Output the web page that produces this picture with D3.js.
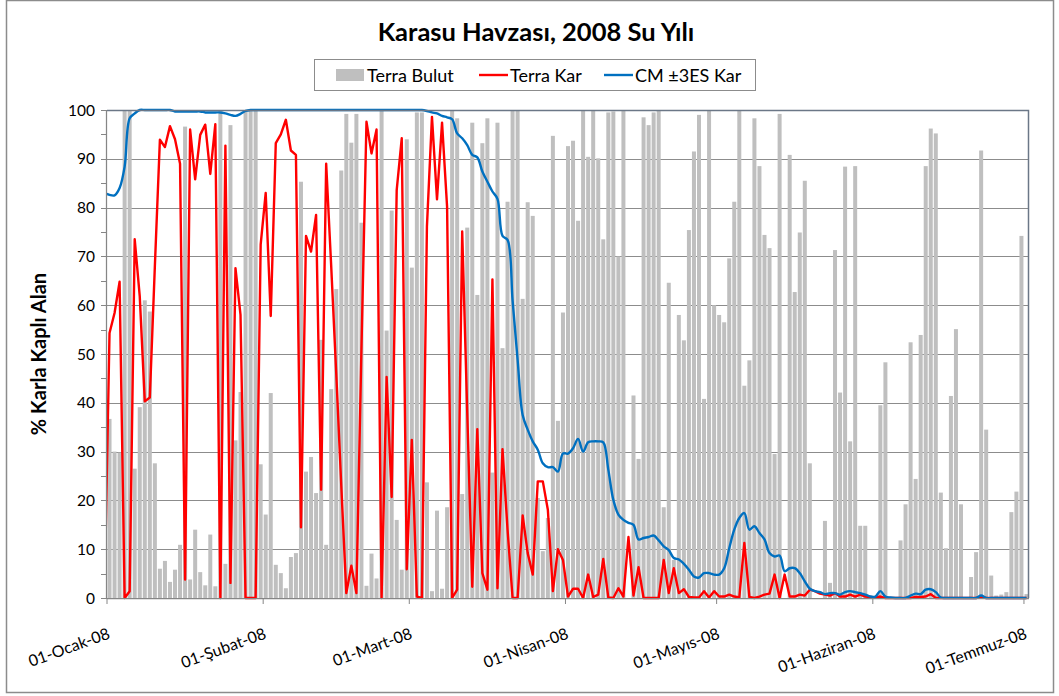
<!DOCTYPE html>
<html>
<head>
<meta charset="utf-8">
<script src="https://cdn.jsdelivr.net/npm/d3@7"></script>
<style>
  body { margin: 0; background: #fff; }
  svg { display: block; font-family: Lato, "Open Sans", sans-serif; }
</style>
</head>
<body>
<div id="chart"></div>
<script>
// --- Datos (31-Ara-07 .. 01-Tem-08, un valor por día) ---
const firstDay = Date.UTC(2007, 11, 31);
const lastDay = Date.UTC(2008, 6, 2);   // exclusivo

// Terra Bulut (%)
const bulut = [
  0,
  36.7, 30, 29.8, 100, 100, 26.5, 39.1, 61, 58.7, 27.6,
  6.0, 7.6, 3.3, 5.8, 10.9, 96.6, 3.8, 14.0, 5.3, 2.6,
  13.0, 2.4, 100, 7.0, 96.9, 32.3, 42.2, 100, 100, 100,
  27.4, 17.1, 42.0, 6.8, 5.1, 2.0, 8.4, 9.2, 85.3, 25.9,
  28.9, 21.5, 52.9, 10.9, 42.8, 63.3, 87.6, 99.2, 93.3, 99.2,
  76.9, 2.5, 9.1, 4.0, 100, 54.8, 79.4, 16.0, 5.8, 94.0,
  67.7, 99.5, 99.5, 23.7, 1.4, 17.9, 1.9, 18.6, 100, 98.3,
  21.3, 75.9, 97.4, 62.1, 93.2, 98.3, 25.7, 97.4, 51.2, 81.2,
  100, 100, 61.3, 81.1, 78.3, 20.5, 9.6, 16.4, 94.7, 36.3,
  58.5, 92.6, 93.7, 77.3, 100, 90.4, 100, 90.1, 73.5, 99.5,
  99.7, 70.0, 100, 0, 41.5, 28.5, 98.5, 96.9, 99.5, 100,
  18.6, 64.6, 7.8, 58.0, 52.8, 75.4, 91.5, 99.0, 40.8, 100,
  60.0, 58.0, 56.5, 69.6, 81.2, 100, 43.5, 48.7, 98.3, 88.5,
  74.4, 71.7, 29.5, 99.2, 0, 90.8, 62.7, 74.9, 85.5, 27.6,
  0, 0, 15.8, 3.1, 71.3, 42.1, 88.4, 32.1, 88.5, 14.8,
  14.8, 0, 0, 39.5, 48.3, 0, 0, 11.8, 19.2, 52.4,
  24.4, 53.9, 88.5, 96.2, 95.2, 21.6, 10.2, 41.4, 55.1, 19.2,
  0, 4.3, 9.4, 91.7, 34.5, 4.6, 0.5, 0.7, 1.2, 17.6,
  21.8, 74.2, 0.8
];

// Terra Kar (%)
const terraKar = [
  0,
  54.3, 58.4, 64.8, 0, 1.4, 73.5, 61.8, 40.3, 41.1, 68,
  93.9, 92.4, 96.7, 94, 89, 3.8, 96, 85.8, 94.9, 97,
  86.9, 97.1, 0, 92.7, 3.1, 67.6, 58, 0, 0, 0,
  72.4, 83, 57.8, 93.2, 95, 98, 91.7, 90.8, 14.5, 74.2,
  71, 78.5, 22.2, 89, 68, 46, 23, 1, 6.6, 1,
  51, 97.6, 91.1, 96, 0, 45.3, 20.7, 83.6, 94.2, 5.9,
  32.4, 0.3, 0, 76.1, 98.6, 81.7, 97.4, 80.2, 0, 1.7,
  75.1, 38, 2.3, 34.6, 5.1, 1.7, 65.3, 2, 30.5, 14,
  0, 0, 16.9, 9.2, 4.8, 23.9, 23.9, 18.1, 1.4, 10,
  7.8, 0.3, 1.9, 1.9, 0, 4.8, 0.2, 0.7, 8, 0.1,
  0, 2, 0.3, 12.5, 0.5, 6.3, 0, 0, 0, 0,
  7.8, 1, 6.1, 1, 1.8, 0.2, 0.1, 0.1, 1.4, 0.1,
  1.4, 0.3, 0.3, 0.7, 0.3, 0.1, 11.3, 0.2, 0, 0.3,
  0.7, 0.9, 4.8, 0, 4.8, 0.3, 0.3, 0.7, 0.5, 1.7,
  1.4, 0.9, 0.7, 0.5, 1, 0.3, 0.3, 0.7, 0.3, 0.7,
  0.3, 0.2, 0.1, 0.3, 0, 0, 0, 0, 0, 0,
  0.2, 0.2, 0.3, 0.8, 0, 0, 0, 0, 0, 0,
  0, 0, 0, 0.3, 0, 0, 0, 0, 0, 0,
  0, 0, 0
];

// CM ±3ES Kar (%)
const cmKar = [
  83,
  82.6, 82.5, 84, 88.4, 98.3, 99.3, 100, 100, 100, 100,
  100, 100, 100, 99.7, 99.7, 99.7, 99.7, 99.7, 99.7, 99.5,
  99.5, 99.5, 99.5, 99.3, 99.0, 98.8, 99.2, 99.8, 100, 100,
  100, 100, 100, 100, 100, 100, 100, 100, 100, 100,
  100, 100, 100, 100, 100, 100, 100, 100, 100, 100,
  100, 100, 100, 100, 100, 100, 100, 100, 100, 100,
  100, 100, 100, 99.8, 99.5, 99.3, 98.8, 98.5, 98.1, 95.2,
  94.2, 92.8, 90.8, 90.3, 87.4, 85.3, 83.3, 81.8, 74.2, 73.4,
  61, 48.8, 37.5, 34.5, 32.1, 30.4, 27.6, 26.8, 26.8, 25.9,
  29.6, 29.6, 30.7, 32.6, 30, 31.9, 32.1, 32.1, 31.9, 26.3,
  20.1, 17.1, 16, 15.4, 15, 12, 12.3, 12.5, 12.8, 11.8,
  10.6, 9.8, 8.2, 7.9, 7.0, 5.8, 4.4, 4.2, 5.1, 5.1,
  4.8, 4.8, 6.1, 10.2, 14, 16.4, 17.4, 14, 14.7, 13.3,
  12, 9.2, 8.5, 8.7, 5.5, 6.1, 6.1, 5.1, 3.4, 1.9,
  1.4, 1.2, 0.8, 1, 1, 0.7, 1.2, 1.4, 1.2, 1,
  0.7, 0.3, 0.3, 1.4, 0.3, 0.1, 0, 0, 0, 0.5,
  0.9, 0.8, 1.7, 1.8, 1.2, 0.1, 0, 0, 0, 0,
  0, 0, 0, 0.5, 0, 0, 0, 0, 0, 0,
  0, 0, 0
];

// Etiquetas del eje X (primer día de cada mes)
const tickDates = [
  Date.UTC(2008, 0, 1), Date.UTC(2008, 1, 1), Date.UTC(2008, 2, 1),
  Date.UTC(2008, 3, 1), Date.UTC(2008, 4, 1), Date.UTC(2008, 5, 1),
  Date.UTC(2008, 6, 1)
];
const tickLabels = [
  "01-Ocak-08", "01-Şubat-08", "01-Mart-08", "01-Nisan-08",
  "01-Mayıs-08", "01-Haziran-08", "01-Temmuz-08"
];
const yTicks = [0, 10, 20, 30, 40, 50, 60, 70, 80, 90, 100];

const legendItems = [
  { label: "Terra Bulut", type: "bar", color: "#bfbfbf" },
  { label: "Terra Kar", type: "line", color: "#ff0000" },
  { label: "CM ±3ES Kar", type: "line", color: "#0070c0" }
];

// --- Render ---
const width = 1059, height = 696;
const plot = { left: 107, right: 1029, top: 110, bottom: 598 };

const days = d3.utcDay.range(new Date(firstDay), new Date(lastDay));
const rows = days.map((d, i) => ({
  date: d,
  bulut: bulut[i],
  terra: terraKar[i],
  cm: cmKar[i]
}));

const svg = d3.select("#chart")
  .append("svg")
  .attr("width", width)
  .attr("height", height);

svg.append("rect")
  .attr("x", 6.5).attr("y", 0.5)
  .attr("width", 1047).attr("height", 692)
  .attr("fill", "#fff")
  .attr("stroke", "#8c8c8c")
  .attr("stroke-width", 1.5);

const x = d3.scaleUtc()
  .domain([new Date(Date.UTC(2008, 0, 1)), new Date(lastDay)])
  .range([plot.left, plot.right]);

const y = d3.scaleLinear()
  .domain([0, 100])
  .range([plot.bottom, plot.top]);

// centro del día
const cx = d => x(d3.utcHour.offset(d, 12));

svg.append("clipPath")
  .attr("id", "plot-clip")
  .append("rect")
  .attr("x", plot.left)
  .attr("y", plot.top - 3)
  .attr("width", plot.right - plot.left)
  .attr("height", plot.bottom - plot.top + 6);

// Gridlines
svg.append("g")
  .selectAll("line")
  .data(yTicks.slice(1))
  .join("line")
  .attr("x1", plot.left).attr("x2", plot.right)
  .attr("y1", d => Math.round(y(d)) + 0.5)
  .attr("y2", d => Math.round(y(d)) + 0.5)
  .attr("stroke", "#8c8c8c")
  .attr("stroke-width", 1);

const g = svg.append("g").attr("clip-path", "url(#plot-clip)");

// Barras Terra Bulut
const barW = 4;
g.append("g")
  .selectAll("rect")
  .data(rows.filter(r => r.bulut > 0))
  .join("rect")
  .attr("x", d => cx(d.date) - barW / 2)
  .attr("width", barW)
  .attr("y", d => y(d.bulut))
  .attr("height", d => y(0) - y(d.bulut))
  .attr("fill", "#bfbfbf");

// Terra Kar
g.append("path")
  .datum(rows)
  .attr("fill", "none")
  .attr("stroke", "#ff0000")
  .attr("stroke-width", 2.4)
  .attr("stroke-linejoin", "round")
  .attr("d", d3.line().x(d => cx(d.date)).y(d => y(d.terra)));

// CM ±3ES Kar (línea suavizada)
g.append("path")
  .datum(rows)
  .attr("fill", "none")
  .attr("stroke", "#0070c0")
  .attr("stroke-width", 2.4)
  .attr("stroke-linejoin", "round")
  .attr("d", d3.line().curve(d3.curveCatmullRom.alpha(0.5))
    .x(d => cx(d.date)).y(d => y(d.cm)));

// Borde del área de trazado
svg.append("path")
  .attr("d", `M${plot.left},${plot.top + 0.5}H${plot.right - 0.5}V${plot.bottom}`)
  .attr("fill", "none")
  .attr("stroke", "#6b7787")
  .attr("stroke-width", 1.5);

// Eje Y
const yAxis = svg.append("g");
yAxis.append("line")
  .attr("x1", plot.left - 0.5).attr("x2", plot.left - 0.5)
  .attr("y1", plot.top).attr("y2", plot.bottom)
  .attr("stroke", "#868686").attr("stroke-width", 1.25);
yAxis.selectAll(".tick")
  .data(d3.range(0, 101, 5))
  .join("line")
  .attr("x1", plot.left - 6).attr("x2", plot.left)
  .attr("y1", d => Math.round(y(d)) + 0.5)
  .attr("y2", d => Math.round(y(d)) + 0.5)
  .attr("stroke", "#868686");
yAxis.selectAll("text")
  .data(yTicks)
  .join("text")
  .attr("x", plot.left - 12)
  .attr("y", d => y(d) + 5.5)
  .attr("text-anchor", "end")
  .attr("font-size", 15.5)
  .attr("fill", "#000")
  .text(d => d);

svg.append("text")
  .attr("transform", `translate(46,${(plot.top + plot.bottom) / 2}) rotate(-90)`)
  .attr("text-anchor", "middle")
  .attr("font-size", 20)
  .attr("font-weight", "bold")
  .text("% Karla Kaplı Alan");

// Eje X
const xAxis = svg.append("g");
xAxis.append("line")
  .attr("x1", plot.left).attr("x2", plot.right)
  .attr("y1", plot.bottom + 0.5).attr("y2", plot.bottom + 0.5)
  .attr("stroke", "#868686").attr("stroke-width", 1.25);
xAxis.selectAll("line.tick")
  .data(tickDates)
  .join("line")
  .attr("class", "tick")
  .attr("x1", d => x(new Date(d))).attr("x2", d => x(new Date(d)))
  .attr("y1", plot.bottom).attr("y2", plot.bottom + 6)
  .attr("stroke", "#868686");
xAxis.selectAll("text")
  .data(tickDates)
  .join("text")
  .attr("transform", d => `translate(${x(new Date(d)) + 4},${plot.bottom + 40}) rotate(-20)`)
  .attr("text-anchor", "end")
  .attr("font-size", 16)
  .text((d, i) => tickLabels[i]);

// Título
svg.append("text")
  .attr("x", 536)
  .attr("y", 41)
  .attr("text-anchor", "middle")
  .attr("font-size", 25.5)
  .attr("font-weight", "bold")
  .text("Karasu Havzası, 2008 Su Yılı");

// Leyenda
const legend = svg.append("g");
legend.append("rect")
  .attr("x", 314.5).attr("y", 59.5)
  .attr("width", 441).attr("height", 31)
  .attr("fill", "#fff")
  .attr("stroke", "#8c8c8c");
const itemX = [336, 479, 604];
legendItems.forEach((it, i) => {
  const gx = itemX[i];
  if (it.type === "bar") {
    legend.append("rect")
      .attr("x", gx).attr("y", 69)
      .attr("width", 28).attr("height", 12)
      .attr("fill", it.color);
  } else {
    legend.append("line")
      .attr("x1", gx).attr("x2", gx + 29)
      .attr("y1", 75).attr("y2", 75)
      .attr("stroke", it.color)
      .attr("stroke-width", 2.4);
  }
  legend.append("text")
    .attr("x", gx + 31)
    .attr("y", 81.5)
    .attr("font-size", 18)
    .text(it.label);
});
</script>
</body>
</html>
